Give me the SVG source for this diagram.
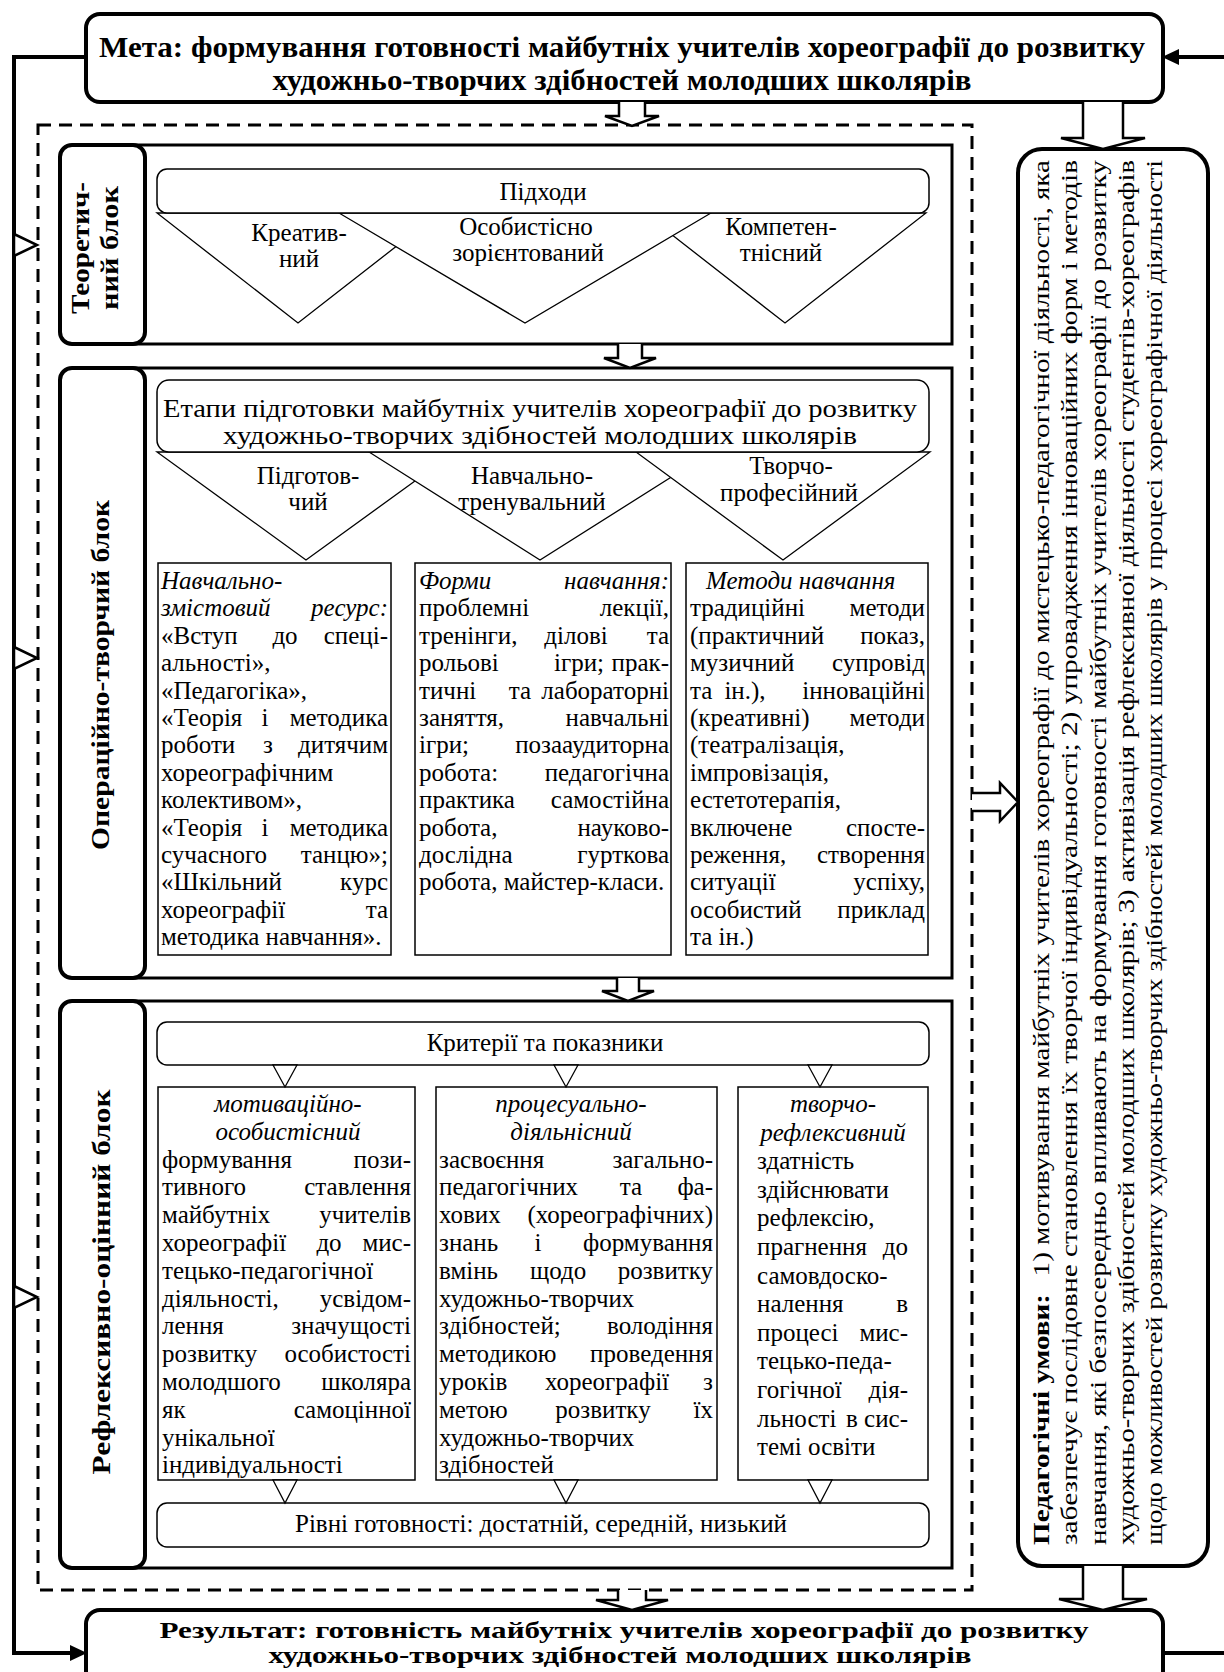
<svg xmlns="http://www.w3.org/2000/svg" width="1224" height="1672" viewBox="0 0 1224 1672">
<style>
.t{font-family:"Liberation Serif","Times New Roman",serif;font-size:25px;fill:#000}
.bd{font-weight:bold}
.it{font-style:italic}
.m{text-anchor:middle}
.e{text-anchor:end}
.thick{fill:#fff;stroke:#000;stroke-width:4}
.blk{fill:#fff;stroke:#000;stroke-width:3}
.thin{fill:#fff;stroke:#000;stroke-width:1.5}
.tri{fill:#fff;stroke:#000;stroke-width:1.3}
.arr{fill:#fff;stroke:#000;stroke-width:2.5}
.ln{fill:none;stroke:#000;stroke-width:4}
</style>
<rect width="1224" height="1672" fill="#fff"/>

<g id="goal">
<rect class="thick" x="86" y="14" width="1077" height="88" rx="14"/>
<text class="t bd m" style="font-size:29px" x="622" y="57" textLength="1046" lengthAdjust="spacingAndGlyphs">Мета: формування готовності майбутніх учителів хореографії до розвитку</text>
<text class="t bd m" style="font-size:29px" x="622" y="90" textLength="699" lengthAdjust="spacingAndGlyphs">художньо-творчих здібностей молодших школярів</text>
</g>

<g id="frame">
<rect x="38" y="125" width="934" height="1465" fill="none" stroke="#000" stroke-width="3" stroke-dasharray="13 8"/>
</g>

<g id="theory">
<rect class="blk" x="130" y="145" width="822" height="199"/>
<rect class="thick" x="60" y="145" width="85" height="199" rx="12"/>
<text class="t bd m" style="font-size:25px" transform="translate(89 248) rotate(-90)" textLength="132" lengthAdjust="spacingAndGlyphs">Теоретич-</text>
<text class="t bd m" style="font-size:25px" transform="translate(118 248) rotate(-90)" textLength="124" lengthAdjust="spacingAndGlyphs">ний блок</text>
<polygon class="tri" points="157,213 439,213 298,323"/>
<polygon class="tri" points="644,213 926,213 785,323"/>
<polygon class="tri" points="339,213 711,213 525,323"/>
<rect class="thin" x="157" y="169" width="772" height="44" rx="10"/>
<g class="t m">
<text x="543" y="200">Підходи</text>
<text x="299" y="241">Креатив-</text>
<text x="299" y="267">ний</text>
<text x="526" y="235">Особистісно</text>
<text x="528" y="261">зорієнтований</text>
<text x="781" y="235">Компетен-</text>
<text x="781" y="261">тнісний</text>
</g>
</g>

<g id="operational">
<rect class="blk" x="130" y="368" width="822" height="610"/>
<rect class="thick" x="60" y="368" width="85" height="610" rx="12"/>
<text class="t bd m" style="font-size:26px" transform="translate(109 675) rotate(-90)" textLength="350" lengthAdjust="spacingAndGlyphs">Операційно-творчий блок</text>
<polygon class="tri" points="157,452 455,452 306,560"/>
<polygon class="tri" points="369,452 711,452 540,560"/>
<polygon class="tri" points="636,452 930,452 783,560"/>
<rect class="thin" x="157" y="380" width="772" height="72" rx="12"/>
<g class="t m">
<text x="540" y="417" textLength="754" lengthAdjust="spacingAndGlyphs">Етапи підготовки майбутніх учителів хореографії до розвитку</text>
<text x="540" y="444" textLength="634" lengthAdjust="spacingAndGlyphs">художньо-творчих здібностей молодших школярів</text>
<text x="308" y="484">Підготов-</text>
<text x="308" y="510">чий</text>
<text x="532" y="484">Навчально-</text>
<text x="532" y="510">тренувальний</text>
<text x="791" y="474">Творчо-</text>
<text x="789" y="501">професійний</text>
</g>
<rect class="thin" x="158" y="563" width="233" height="392"/>
<rect class="thin" x="415" y="563" width="256" height="392"/>
<rect class="thin" x="686" y="563" width="242" height="392"/>
<g class="t">
<text x="161" y="589" class="it">Навчально-</text>
<text x="161" y="616" class="it">змістовий</text><text x="388" y="616" class="it e">ресурс:</text>
<text x="161" y="644">«Вступ</text><text x="285" y="644" class="m">до</text><text x="388" y="644" class="e">спеці-</text>
<text x="161" y="671">альності»,</text>
<text x="161" y="699">«Педагогіка»,</text>
<text x="161" y="726">«Теорія</text><text x="265" y="726" class="m">і</text><text x="388" y="726" class="e">методика</text>
<text x="161" y="753">роботи</text><text x="268" y="753" class="m">з</text><text x="388" y="753" class="e">дитячим</text>
<text x="161" y="781">хореографічним</text>
<text x="161" y="808">колективом»,</text>
<text x="161" y="836">«Теорія</text><text x="265" y="836" class="m">і</text><text x="388" y="836" class="e">методика</text>
<text x="161" y="863">сучасного</text><text x="388" y="863" class="e">танцю»;</text>
<text x="161" y="890">«Шкільний</text><text x="388" y="890" class="e">курс</text>
<text x="161" y="918">хореографії</text><text x="388" y="918" class="e">та</text>
<text x="161" y="945">методика навчання».</text>

<text x="419" y="589" class="it">Форми</text><text x="669" y="589" class="it e">навчання:</text>
<text x="419" y="616">проблемні</text><text x="669" y="616" class="e">лекції,</text>
<text x="419" y="644">тренінги,</text><text x="576" y="644" class="m">ділові</text><text x="669" y="644" class="e">та</text>
<text x="419" y="671">рольові</text><text x="579" y="671" class="m">ігри;</text><text x="669" y="671" class="e">прак-</text>
<text x="419" y="699">тичні</text><text x="520" y="699" class="m">та</text><text x="669" y="699" class="e">лабораторні</text>
<text x="419" y="726">заняття,</text><text x="669" y="726" class="e">навчальні</text>
<text x="419" y="753">ігри;</text><text x="669" y="753" class="e">позааудиторна</text>
<text x="419" y="781">робота:</text><text x="669" y="781" class="e">педагогічна</text>
<text x="419" y="808">практика</text><text x="669" y="808" class="e">самостійна</text>
<text x="419" y="836">робота,</text><text x="669" y="836" class="e">науково-</text>
<text x="419" y="863">дослідна</text><text x="669" y="863" class="e">гурткова</text>
<text x="419" y="890">робота, майстер-класи.</text>

<text x="706" y="589" class="it">Методи навчання</text>
<text x="690" y="616">традиційні</text><text x="925" y="616" class="e">методи</text>
<text x="690" y="644">(практичний</text><text x="925" y="644" class="e">показ,</text>
<text x="690" y="671">музичний</text><text x="925" y="671" class="e">супровід</text>
<text x="690" y="699">та</text><text x="745" y="699" class="m">ін.),</text><text x="925" y="699" class="e">інноваційні</text>
<text x="690" y="726">(креативні)</text><text x="925" y="726" class="e">методи</text>
<text x="690" y="753">(театралізація,</text>
<text x="690" y="781">імпровізація,</text>
<text x="690" y="808">естетотерапія,</text>
<text x="690" y="836">включене</text><text x="925" y="836" class="e">спосте-</text>
<text x="690" y="863">реження,</text><text x="925" y="863" class="e">створення</text>
<text x="690" y="890">ситуації</text><text x="925" y="890" class="e">успіху,</text>
<text x="690" y="918">особистий</text><text x="925" y="918" class="e">приклад</text>
<text x="690" y="945">та ін.)</text>
</g>
</g>

<g id="reflexive">
<rect class="blk" x="130" y="1001" width="822" height="567"/>
<rect class="thick" x="60" y="1001" width="85" height="567" rx="12"/>
<text class="t bd m" style="font-size:26px" transform="translate(110 1282) rotate(-90)" textLength="385" lengthAdjust="spacingAndGlyphs">Рефлексивно-оцінний блок</text>
<rect class="thin" x="157" y="1022" width="772" height="43" rx="10"/>
<text class="t m" x="545" y="1051">Критерії та показники</text>
<rect class="thin" x="158" y="1087" width="257" height="393"/>
<rect class="thin" x="436" y="1087" width="281" height="393"/>
<rect class="thin" x="738" y="1087" width="190" height="393"/>
<rect class="thin" x="157" y="1503" width="772" height="44" rx="10"/>
<text class="t m" x="541" y="1532">Рівні готовності: достатній, середній, низький</text>
<g class="t">
<text x="288" y="1112" class="it m">мотиваційно-</text>
<text x="288" y="1140" class="it m">особистісний</text>
<text x="162" y="1168">формування</text><text x="411" y="1168" class="e">пози-</text>
<text x="162" y="1195">тивного</text><text x="411" y="1195" class="e">ставлення</text>
<text x="162" y="1223">майбутніх</text><text x="411" y="1223" class="e">учителів</text>
<text x="162" y="1251">хореографії</text><text x="329" y="1251" class="m">до</text><text x="411" y="1251" class="e">мис-</text>
<text x="162" y="1279">тецько-педагогічної</text>
<text x="162" y="1307">діяльності,</text><text x="411" y="1307" class="e">усвідом-</text>
<text x="162" y="1334">лення</text><text x="411" y="1334" class="e">значущості</text>
<text x="162" y="1362">розвитку</text><text x="411" y="1362" class="e">особистості</text>
<text x="162" y="1390">молодшого</text><text x="411" y="1390" class="e">школяра</text>
<text x="162" y="1418">як</text><text x="411" y="1418" class="e">самоцінної</text>
<text x="162" y="1446">унікальної</text>
<text x="162" y="1473">індивідуальності</text>

<text x="571" y="1112" class="it m">процесуально-</text>
<text x="571" y="1140" class="it m">діяльнісний</text>
<text x="439" y="1168">засвоєння</text><text x="713" y="1168" class="e">загально-</text>
<text x="439" y="1195">педагогічних</text><text x="631" y="1195" class="m">та</text><text x="713" y="1195" class="e">фа-</text>
<text x="439" y="1223">хових</text><text x="713" y="1223" class="e">(хореографічних)</text>
<text x="439" y="1251">знань</text><text x="538" y="1251" class="m">і</text><text x="713" y="1251" class="e">формування</text>
<text x="439" y="1279">вмінь</text><text x="558" y="1279" class="m">щодо</text><text x="713" y="1279" class="e">розвитку</text>
<text x="439" y="1307">художньо-творчих</text>
<text x="439" y="1334">здібностей;</text><text x="713" y="1334" class="e">володіння</text>
<text x="439" y="1362">методикою</text><text x="713" y="1362" class="e">проведення</text>
<text x="439" y="1390">уроків</text><text x="607" y="1390" class="m">хореографії</text><text x="713" y="1390" class="e">з</text>
<text x="439" y="1418">метою</text><text x="603" y="1418" class="m">розвитку</text><text x="713" y="1418" class="e">їх</text>
<text x="439" y="1446">художньо-творчих</text>
<text x="439" y="1473">здібностей</text>

<text x="833" y="1112" class="it m">творчо-</text>
<text x="833" y="1141" class="it m">рефлексивний</text>
<text x="757" y="1169">здатність</text>
<text x="757" y="1198">здійснювати</text>
<text x="757" y="1226">рефлексію,</text>
<text x="757" y="1255">прагнення</text><text x="908" y="1255" class="e">до</text>
<text x="757" y="1284">самовдоско-</text>
<text x="757" y="1312">налення</text><text x="908" y="1312" class="e">в</text>
<text x="757" y="1341">процесі</text><text x="908" y="1341" class="e">мис-</text>
<text x="757" y="1369">тецько-педа-</text>
<text x="757" y="1398">гогічної</text><text x="908" y="1398" class="e">дія-</text>
<text x="757" y="1427">льності</text><text x="852" y="1427" class="m">в</text><text x="908" y="1427" class="e">сис-</text>
<text x="757" y="1455">темі освіти</text>
</g>
</g>

<g id="conditions">
<rect class="thick" x="1018" y="149" width="190" height="1417" rx="24"/>
<g class="t" style="font-size:23px">
<text transform="translate(1049 1545) rotate(-90)" textLength="1385" lengthAdjust="spacingAndGlyphs"><tspan font-weight="bold">Педагогічні умови:</tspan><tspan dx="14">1) мотивування майбутніх учителів хореографії до мистецько-педагогічної діяльності, яка</tspan></text>
<text transform="translate(1077 1545) rotate(-90)" textLength="1385" lengthAdjust="spacingAndGlyphs">забезпечує послідовне становлення їх творчої індивідуальності; 2) упровадження інноваційних форм і методів</text>
<text transform="translate(1106 1545) rotate(-90)" textLength="1385" lengthAdjust="spacingAndGlyphs">навчання, які безпосередньо впливають на формування готовності майбутніх учителів хореографії до розвитку</text>
<text transform="translate(1134 1545) rotate(-90)" textLength="1385" lengthAdjust="spacingAndGlyphs">художньо-творчих здібностей молодших школярів; 3) активізація рефлексивної діяльності студентів-хореографів</text>
<text transform="translate(1162 1545) rotate(-90)" textLength="1385" lengthAdjust="spacingAndGlyphs">щодо можливостей розвитку художньо-творчих здібностей молодших школярів у процесі хореографічної діяльності</text>
</g>
</g>

<g id="result">
<rect class="thick" x="86" y="1610" width="1077" height="80" rx="14"/>
<text class="t bd m" style="font-size:23px" x="624" y="1638" textLength="929" lengthAdjust="spacingAndGlyphs">Результат: готовність майбутніх учителів хореографії до розвитку</text>
<text class="t bd m" style="font-size:23px" x="620" y="1663" textLength="703" lengthAdjust="spacingAndGlyphs">художньо-творчих здібностей молодших школярів</text>
</g>

<g id="connectors">
<path class="ln" d="M86,57 H14 V1653 H74"/>
<polygon points="87,1653 70,1645 70,1661" fill="#000"/>
<path class="ln" d="M1224,57 H1176"/>
<polygon points="1162,57 1179,49 1179,65" fill="#000"/>
<path class="ln" d="M1163,1653 H1224"/>
<polygon class="arr" points="14,234 37,245 14,256"/>
<polygon class="arr" points="14,647 37,658 14,669"/>
<polygon class="arr" points="14,1286 37,1297 14,1308"/>
<path class="arr" d="M619,102 V116 H605 L632,126 L659,116 H645 V102"/>
<path class="arr" d="M618,344 V358 H604 L630,368 L656,358 H642 V344"/>
<path class="arr" d="M617,978 V991 H602 L628,1001 L654,991 H639 V978"/>
<path class="arr" d="M618,1590 V1600 H596 L632,1610 L668,1600 H646 V1590"/>
<path class="arr" d="M1083,102 V138 H1061 L1103,149 L1145,138 H1123 V102"/>
<path class="arr" d="M1083,1566 V1599 H1059 L1103,1610 L1147,1599 H1123 V1566"/>
<path class="arr" d="M972,793 H1000 V783 L1018,802 L1000,821 V811 H972"/>
<polygon class="tri" points="273,1065 297,1065 285,1087"/>
<polygon class="tri" points="554,1065 578,1065 566,1087"/>
<polygon class="tri" points="808,1065 832,1065 820,1087"/>
<polygon class="tri" points="273,1480 297,1480 285,1503"/>
<polygon class="tri" points="554,1480 578,1480 566,1503"/>
<polygon class="tri" points="808,1480 832,1480 820,1503"/>
</g>
</svg>
